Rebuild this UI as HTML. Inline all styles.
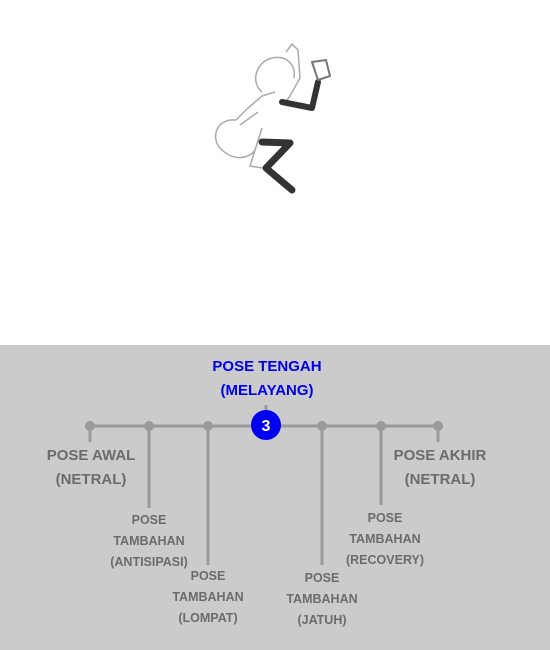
<!DOCTYPE html>
<html><head><style>
body{margin:0;width:550px;height:650px;background:#fff;position:relative;overflow:hidden;font-family:"Liberation Sans",sans-serif}
#p{position:absolute;left:0;top:345px;width:550px;height:305px;background:#cbcbcb}
.t{position:absolute;text-align:center;color:#6b6b6b;font-weight:bold;transform:translateX(-50%);white-space:nowrap}
.b{font-size:15px;line-height:24px}
.s{font-size:12.5px;line-height:21px}
</style></head><body>
<svg style="position:absolute;left:0;top:0" width="550" height="345">
<g fill="none" stroke="#aaa" stroke-width="1.5">
<path d="M262 92 C250 82 256 62 272 58 C286 55 296 64 294 78"/>
<path d="M286 52 L292 44 L298 50 L300 78 L290 96 L284 104"/>
<path d="M275 92 L262 96 L248 108 L236 120"/>
<path d="M236 120 C215 118 210 140 222 150 C235 162 250 158 255 150 L262 128 L250 166 L262 168"/>
<path d="M258 112 L240 125"/>
</g>
<g fill="none" stroke="#333" stroke-linecap="round" stroke-linejoin="round">
<path d="M282 102 L312 108 L318 82" stroke-width="6"/>
<path d="M262 142 L290 143 L266 168 L292 190" stroke-width="7"/>
<path d="M312 62 L326 60 L330 76 L318 80 Z" stroke-width="2" stroke="#777"/>
</g>
</svg>
<div id="p"></div>
<svg style="position:absolute;left:0;top:0" width="550" height="650">
<g stroke="#9a9a9a" stroke-width="3" fill="#9a9a9a">
<line x1="90" y1="426" x2="438" y2="426"/>
<line x1="90" y1="426" x2="90" y2="442"/>
<line x1="149" y1="426" x2="149" y2="508"/>
<line x1="208" y1="426" x2="208" y2="565"/>
<line x1="322" y1="426" x2="322" y2="565"/>
<line x1="381" y1="426" x2="381" y2="505"/>
<line x1="438" y1="426" x2="438" y2="442"/>
<line x1="266" y1="405" x2="266" y2="412"/>
<circle cx="90" cy="426" r="5" stroke="none"/><circle cx="149" cy="426" r="5" stroke="none"/>
<circle cx="208" cy="426" r="5" stroke="none"/><circle cx="322" cy="426" r="5" stroke="none"/>
<circle cx="381" cy="426" r="5" stroke="none"/><circle cx="438" cy="426" r="5" stroke="none"/>
</g>
<circle cx="266" cy="425" r="15" fill="#0000ee"/>
<text x="266" y="431" text-anchor="middle" fill="#fff" font-family="Liberation Sans" font-weight="bold" font-size="16">3</text>
</svg>
<div class="t b" style="left:267px;top:355px;color:#0000ee">POSE TENGAH<br>(MELAYANG)</div>
<div class="t b" style="left:91px;top:444px">POSE AWAL<br>(NETRAL)</div>
<div class="t b" style="left:440px;top:444px">POSE AKHIR<br>(NETRAL)</div>
<div class="t s" style="left:149px;top:510px">POSE<br>TAMBAHAN<br>(ANTISIPASI)</div>
<div class="t s" style="left:208px;top:566px">POSE<br>TAMBAHAN<br>(LOMPAT)</div>
<div class="t s" style="left:322px;top:568px">POSE<br>TAMBAHAN<br>(JATUH)</div>
<div class="t s" style="left:385px;top:508px">POSE<br>TAMBAHAN<br>(RECOVERY)</div>
</body></html>
